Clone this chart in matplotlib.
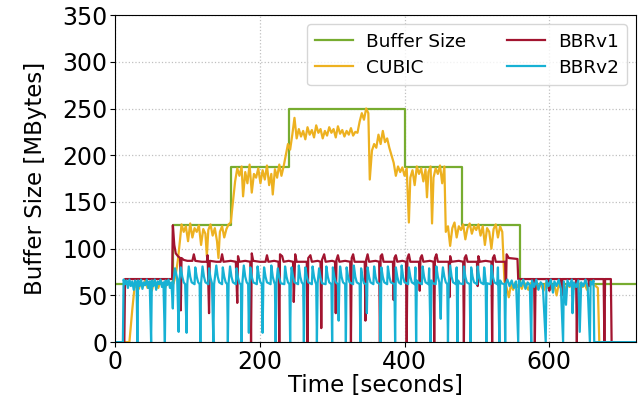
import matplotlib
matplotlib.use("Agg")
import matplotlib.pyplot as plt

# buffer size steps (seconds, MBytes)
buffer_t = [0, 80, 160, 240, 400, 480, 560, 720]
buffer_v = [62.5, 125, 187.5, 250, 187.5, 125, 62.5, 62.5]

# CUBIC queue occupancy
cubic_t = [0, 20, 24, 27, 30, 33, 36, 39, 42, 45, 48, 51, 54, 57, 60, 63, 66, 69, 72, 75, 78,
           81, 84, 87, 90, 92, 95, 98, 101, 104, 107, 110, 113, 116, 119, 122, 125, 127, 129,
           132, 135, 138, 141, 143, 145, 148, 151, 154, 157, 160, 163, 166, 169, 172, 175, 177,
           180, 183, 186, 189, 192, 195, 198, 201, 204, 207, 210, 213, 216, 218, 221, 224, 227,
           230, 233, 236, 239, 242, 245, 248, 251, 254, 257, 260, 263, 266, 269, 272, 275, 278,
           281, 284, 287, 290, 293, 296, 299, 302, 305, 308, 311, 314, 317, 320, 323, 326, 329,
           332, 335, 338, 341, 344, 347, 350, 352, 355, 358, 361, 364, 367, 370, 373, 376, 379,
           382, 385, 388, 391, 394, 397, 400, 403, 406, 408, 411, 414, 417, 420, 423, 426, 429,
           431, 433, 436, 438, 440, 443, 446, 449, 452, 455, 457, 460, 463, 466, 469, 472, 475,
           478, 481, 484, 487, 490, 493, 496, 499, 502, 505, 508, 511, 514, 517, 520, 523, 526,
           529, 532, 535, 538, 541, 544, 547, 550, 553, 556, 559, 562, 565, 568, 571, 574, 577,
           580, 583, 586, 589, 592, 595, 598, 601, 604, 607, 610, 613, 616, 619, 622, 625, 628,
           631, 634, 637, 640, 643, 646, 649, 652, 655, 658, 661, 664, 667, 669, 720]
cubic_v = [0, 0, 35, 58, 62, 57, 64, 60, 66, 58, 63, 55, 65, 61, 58, 66, 60, 57, 64, 62, 59,
           63, 72, 88, 110, 126, 118, 124, 108, 127, 112, 122, 118, 125, 104, 121, 116, 92, 120,
           126, 114, 122, 108, 90, 118, 124, 112, 121, 126, 128, 150, 172, 186, 178, 188, 156,
           182, 170, 190, 160, 180, 176, 186, 170, 184, 174, 189, 168, 180, 158, 185, 176, 190,
           178, 188, 200, 212, 206, 222, 240, 218, 228, 220, 226, 217, 230, 222, 227, 219, 232,
           224, 228, 218, 226, 221, 230, 224, 228, 219, 231, 223, 227, 220, 226, 222, 229, 221,
           225, 224, 236, 245, 238, 250, 245, 174, 205, 212, 208, 222, 212, 226, 214, 218, 208,
           200, 192, 178, 188, 182, 187, 178, 186, 128, 176, 184, 168, 188, 180, 186, 172, 185,
           155, 182, 188, 127, 176, 186, 180, 189, 170, 188, 118, 124, 103, 122, 128, 112, 124,
           120, 126, 110, 122, 127, 116, 124, 120, 126, 114, 124, 104, 122, 118, 100, 121, 126,
           112, 124, 118, 65, 58, 48, 62, 56, 64, 59, 63, 57, 64, 60, 56, 63, 59,
           64, 57, 62, 60, 55, 63, 58, 64, 57, 61, 50, 62, 58, 64, 56, 62, 59,
           64, 57, 62, 55, 63, 59, 62, 56, 64, 66, 62, 60, 58, 0, 0]

# BBRv1
bbr1_t = [0, 13, 14, 79, 80, 82, 84, 87, 90, 91, 92, 95, 100, 107, 109, 111, 120, 127, 128, 130,
          131, 140, 146, 148, 150, 160, 167, 169, 170, 172, 180, 187, 188, 189, 191, 200, 208,
          210, 212, 220, 226, 227, 228, 231, 233, 240, 246, 247, 249, 251, 260, 265, 266, 267,
          270, 272, 280, 284, 285, 286, 289, 291, 300, 304, 305, 306, 308, 310, 318, 325, 326,
          327, 329, 331, 340, 345, 346, 347, 349, 351, 360, 365, 366, 367, 369, 371, 380, 384,
          385, 386, 388, 390, 397, 402, 403, 404, 406, 408, 415, 420, 421, 422, 424, 426, 435,
          440, 441, 442, 444, 446, 455, 461, 462, 463, 465, 475, 481, 482, 483, 485, 487, 495,
          500, 501, 502, 504, 512, 520, 521, 522, 524, 526, 535, 539, 540, 541, 544, 556, 557,
          579, 580, 581, 599, 600, 601, 616, 617, 618, 637, 638, 639, 654, 655, 656, 675, 676,
          677, 685, 686, 720]
bbr1_v = [0, 0, 67.5, 67.5, 125, 104, 95, 92, 90, 34, 90, 88, 87, 87, 94, 87, 86, 86, 93, 31,
          87, 86, 86, 94, 86, 87, 86, 42, 92, 86, 87, 86, 0, 95, 87, 86, 86,
          93, 86, 87, 86, 0, 94, 92, 86, 87, 86, 43, 94, 86, 86, 86, 0, 90,
          93, 86, 87, 86, 15, 88, 94, 86, 87, 86, 31, 88, 93, 86, 87, 86, 0,
          90, 94, 86, 86, 86, 23, 88, 94, 86, 87, 86, 0, 92, 94, 86, 86, 86,
          45, 90, 93, 86, 87, 86, 0, 90, 94, 86, 86, 86, 55, 90, 93, 86, 87,
          86, 0, 90, 94, 86, 86, 86, 48, 92, 86, 87, 86, 0, 90, 93, 86, 86,
          86, 60, 92, 86, 87, 86, 0, 90, 93, 86, 86, 86, 53, 94, 90, 89, 67.5,
          67.5, 0, 67.5, 67.5, 55, 67.5, 67.5, 50, 67.5, 67.5, 0, 67.5, 67.5, 60, 67.5, 67.5, 0,
          67.5, 67.5, 0, 0]

# BBRv2
bbr2_t = [0, 11, 12, 14, 16, 18, 20, 22, 24, 26, 28, 30, 31, 32, 34, 36, 38, 40, 42, 44, 46, 48,
          50, 51, 53, 55, 57, 59, 61, 63, 65, 67, 69, 70, 72, 74, 76, 78, 80, 81, 83, 86, 88, 89,
          91, 93, 95, 97, 99, 100, 102, 104, 106, 110, 111, 113, 115, 117, 118, 119, 121, 123,
          125, 129, 130, 132, 134, 136, 137, 140, 142, 144, 148, 149, 151, 153, 155, 156, 157,
          159, 161, 163, 167, 168, 170, 172, 174, 175, 176, 178, 180, 182, 184, 185, 186, 187,
          189, 191, 196, 197, 199, 201, 203, 204, 205, 206, 208, 210, 215, 216, 218, 220, 221,
          222, 223, 225, 227, 229, 234, 235, 237, 239, 241, 242, 243, 244, 246, 248, 253, 254,
          256, 258, 260, 261, 262, 263, 265, 267, 272, 273, 275, 277, 278, 279, 280, 282, 284,
          286, 291, 292, 294, 296, 299, 300, 301, 303, 305, 308, 309, 310, 311, 313, 315, 318,
          319, 320, 322, 324, 329, 330, 332, 334, 338, 339, 340, 342, 344, 347, 348, 349, 351,
          353, 357, 358, 360, 362, 366, 367, 368, 370, 372, 376, 377, 379, 381, 386, 387, 388,
          390, 392, 395, 396, 398, 400, 405, 406, 408, 410, 414, 415, 416, 417, 419, 424, 425,
          427, 429, 433, 434, 436, 437, 439, 443, 444, 446, 448, 450, 451, 453, 455, 457, 459,
          460, 461, 463, 465, 467, 471, 472, 473, 474, 476, 481, 482, 484, 486, 490, 491, 492,
          494, 496, 500, 501, 503, 505, 509, 510, 512, 513, 514, 519, 520, 522, 524, 528, 529,
          531, 532, 534, 538, 539, 540, 542, 545, 548, 551, 554, 557, 558, 561, 564, 567, 570,
          573, 575, 576, 579, 582, 585, 588, 591, 595, 596, 599, 602, 605, 607, 610, 613, 616,
          619, 620, 623, 625, 628, 631, 632, 634, 637, 640, 642, 644, 647, 650, 653, 656, 657,
          659, 661, 662, 720]
bbr2_v = [0, 0, 67, 62, 66, 58, 67, 60, 65, 56, 66, 62, 0, 66, 60, 67, 57, 64, 61, 67, 58, 65,
          0, 66, 60, 67, 56, 65, 62, 67, 59, 64, 0, 66, 61, 67, 58, 64, 36, 66, 79, 68, 11, 66,
          80, 70, 64, 62, 10, 63, 81, 70, 64, 62, 80, 70, 64, 62, 0, 63, 81, 70,
          64, 62, 79, 69, 63, 0, 62, 82, 70, 64, 62, 80, 70, 64, 62, 0, 63,
          81, 70, 64, 62, 79, 69, 63, 62, 0, 63, 82, 70, 64, 62, 10, 63, 80,
          70, 64, 62, 81, 70, 64, 62, 10, 63, 80, 70, 64, 62, 82, 70, 64, 62,
          0, 63, 79, 69, 63, 62, 81, 70, 64, 62, 0, 63, 80, 70, 64, 62, 82,
          70, 64, 62, 0, 63, 80, 70, 64, 62, 81, 70, 64, 62, 0, 63, 79, 69,
          63, 62, 81, 70, 64, 62, 0, 80, 70, 64, 62, 23, 63, 81, 70, 64, 62,
          0, 80, 70, 64, 62, 82, 70, 64, 62, 0, 79, 69, 63, 62, 31, 80, 70,
          64, 62, 81, 70, 64, 62, 0, 80, 70, 64, 62, 81, 70, 64, 62, 0, 80,
          70, 64, 62, 82, 70, 64, 62, 80, 70, 64, 62, 80, 0, 66, 64, 62, 81,
          70, 64, 62, 79, 0, 66, 63, 62, 81, 70, 64, 25, 62, 80, 70, 64, 62,
          0, 63, 82, 70, 64, 62, 80, 0, 66, 63, 62, 81, 70, 64, 62, 0, 80,
          70, 64, 62, 81, 70, 64, 62, 80, 66, 0, 63, 62, 82, 70, 64, 62, 80,
          0, 66, 63, 62, 0, 63, 67, 60, 66, 58, 65, 0, 66, 60, 67, 57, 64,
          61, 0, 66, 59, 67, 56, 64, 61, 0, 66, 60, 67, 53, 65, 60, 67, 57,
          0, 65, 40, 66, 60, 67, 31, 64, 59, 66, 11, 64, 60, 67, 58, 0, 65,
          62, 66, 0, 0]

series_names = ["Buffer Size", "CUBIC", "BBRv1", "BBRv2"]
series_colors = ["#77AC30", "#EDB120", "#A2142F", "#17B1D4"]

fig, ax = plt.subplots(figsize=(6.42, 3.96), dpi=100)
fig.subplots_adjust(left=0.179, right=0.991, top=0.962, bottom=0.136)

ax.plot(buffer_t, buffer_v, drawstyle="steps-post", color=series_colors[0], lw=1.6, label=series_names[0])
ax.plot(cubic_t, cubic_v, color=series_colors[1], lw=1.6, label=series_names[1])
ax.plot(bbr1_t, bbr1_v, color=series_colors[2], lw=1.6, label=series_names[2])
ax.plot(bbr2_t, bbr2_v, color=series_colors[3], lw=1.6, label=series_names[3])

ax.set_xlim(0, 720)
ax.set_ylim(0, 350)
ax.set_xticks([0, 200, 400, 600])
ax.set_yticks(range(0, 351, 50))
ax.tick_params(labelsize=17, pad=2)
ax.grid(True, linestyle=":", color="#c0c0c0", lw=0.9)
ax.set_xlabel("Time [seconds]", fontsize=16.5, labelpad=0)
ax.set_ylabel("Buffer Size [MBytes]", fontsize=16.5, labelpad=11)

ax.legend(loc="upper right", ncol=2, fontsize=13.3, handlelength=2.05,
          handletextpad=0.7, columnspacing=2.2, borderpad=0.45, labelspacing=0.45)

fig.savefig("out.png")
